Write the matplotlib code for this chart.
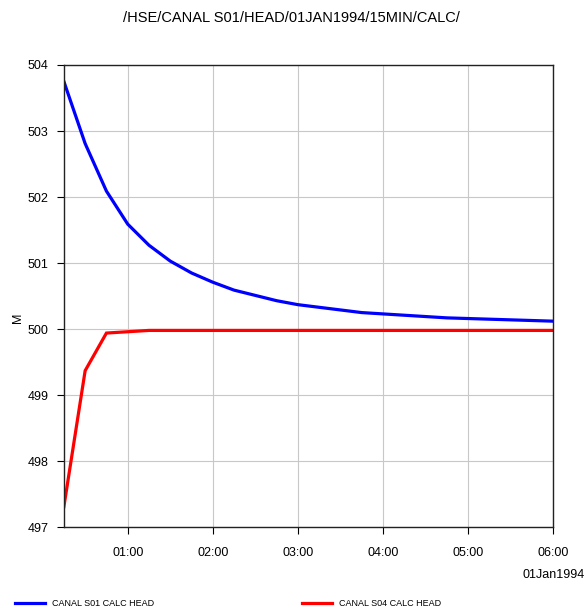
"""Recreates the DSS plot of calculated canal heads at S01 and S04."""

import matplotlib

matplotlib.use("Agg")
import matplotlib.dates as mdates
import matplotlib.pyplot as plt
import numpy as np

plt.rcParams["font.family"] = ["Liberation Sans", "DejaVu Sans"]

TITLE = "/HSE/CANAL S01/HEAD/01JAN1994/15MIN/CALC/"
START = np.datetime64("1994-01-01T00:15")
STEP_MIN = 15

S01_HEAD = [
    503.75, 502.81, 502.09, 501.59, 501.27, 501.03, 500.85, 500.71,
    500.59, 500.51, 500.43, 500.37, 500.33, 500.29, 500.25, 500.23,
    500.21, 500.19, 500.17, 500.16, 500.15, 500.14, 500.13, 500.12,
]
S04_HEAD = [
    497.31, 499.37, 499.94, 499.96, 499.98, 499.98, 499.98, 499.98,
    499.98, 499.98, 499.98, 499.98, 499.98, 499.98, 499.98, 499.98,
    499.98, 499.98, 499.98, 499.98, 499.98, 499.98, 499.98, 499.98,
]
SERIES_LABELS = ["CANAL S01 CALC HEAD", "CANAL S04 CALC HEAD"]
SERIES_COLORS = ["#0000ff", "#ff0000"]
Y_TICKS = [497, 498, 499, 500, 501, 502, 503, 504]


def main() -> None:
  times = START + np.arange(len(S01_HEAD)) * np.timedelta64(STEP_MIN, "m")
  times = times.astype("datetime64[ms]").astype(object)

  figure = plt.figure(figsize=(5.86, 6.13), dpi=100)
  axis = figure.add_axes([0.109, 0.140, 0.835, 0.754])

  lines = []
  for values, color in zip((S01_HEAD, S04_HEAD), SERIES_COLORS):
    (line,) = axis.plot(times, values, color=color, linewidth=2.3,
                        solid_joinstyle="miter")
    lines.append(line)

  axis.set_xlim(times[0], times[-1])
  axis.set_ylim(Y_TICKS[0], Y_TICKS[-1])
  axis.set_yticks(Y_TICKS)
  axis.xaxis.set_major_locator(mdates.HourLocator())
  axis.xaxis.set_major_formatter(mdates.DateFormatter("%H:%M"))
  axis.tick_params(labelsize=9, length=5, width=0.8, pad=6,
                   direction="out", colors="black")
  axis.tick_params(axis="x", pad=9)
  axis.grid(True, color="#c8c8c8", linewidth=0.8)
  axis.set_axisbelow(True)
  for spine in axis.spines.values():
    spine.set_color("#222222")
    spine.set_linewidth(1.0)

  axis.set_ylabel("M", fontsize=9)
  axis.yaxis.set_label_coords(-0.082, 0.452)
  figure.text(0.497, 0.970, TITLE, ha="center", va="center", fontsize=10.5)
  figure.text(0.998, 0.062, "01Jan1994", ha="right", va="center",
              fontsize=9)

  legend_x = (0.026, 0.516)
  for line, label, x0 in zip(lines, SERIES_LABELS, legend_x):
    figure.add_artist(plt.Line2D([x0, x0 + 0.051], [0.016, 0.016],
                                 color=line.get_color(), linewidth=2.3,
                                 transform=figure.transFigure))
    figure.text(x0 + 0.063, 0.016, label, ha="left", va="center",
                fontsize=6.5)

  figure.savefig("out.png", dpi=100)
  plt.close(figure)


if __name__ == "__main__":
  main()
